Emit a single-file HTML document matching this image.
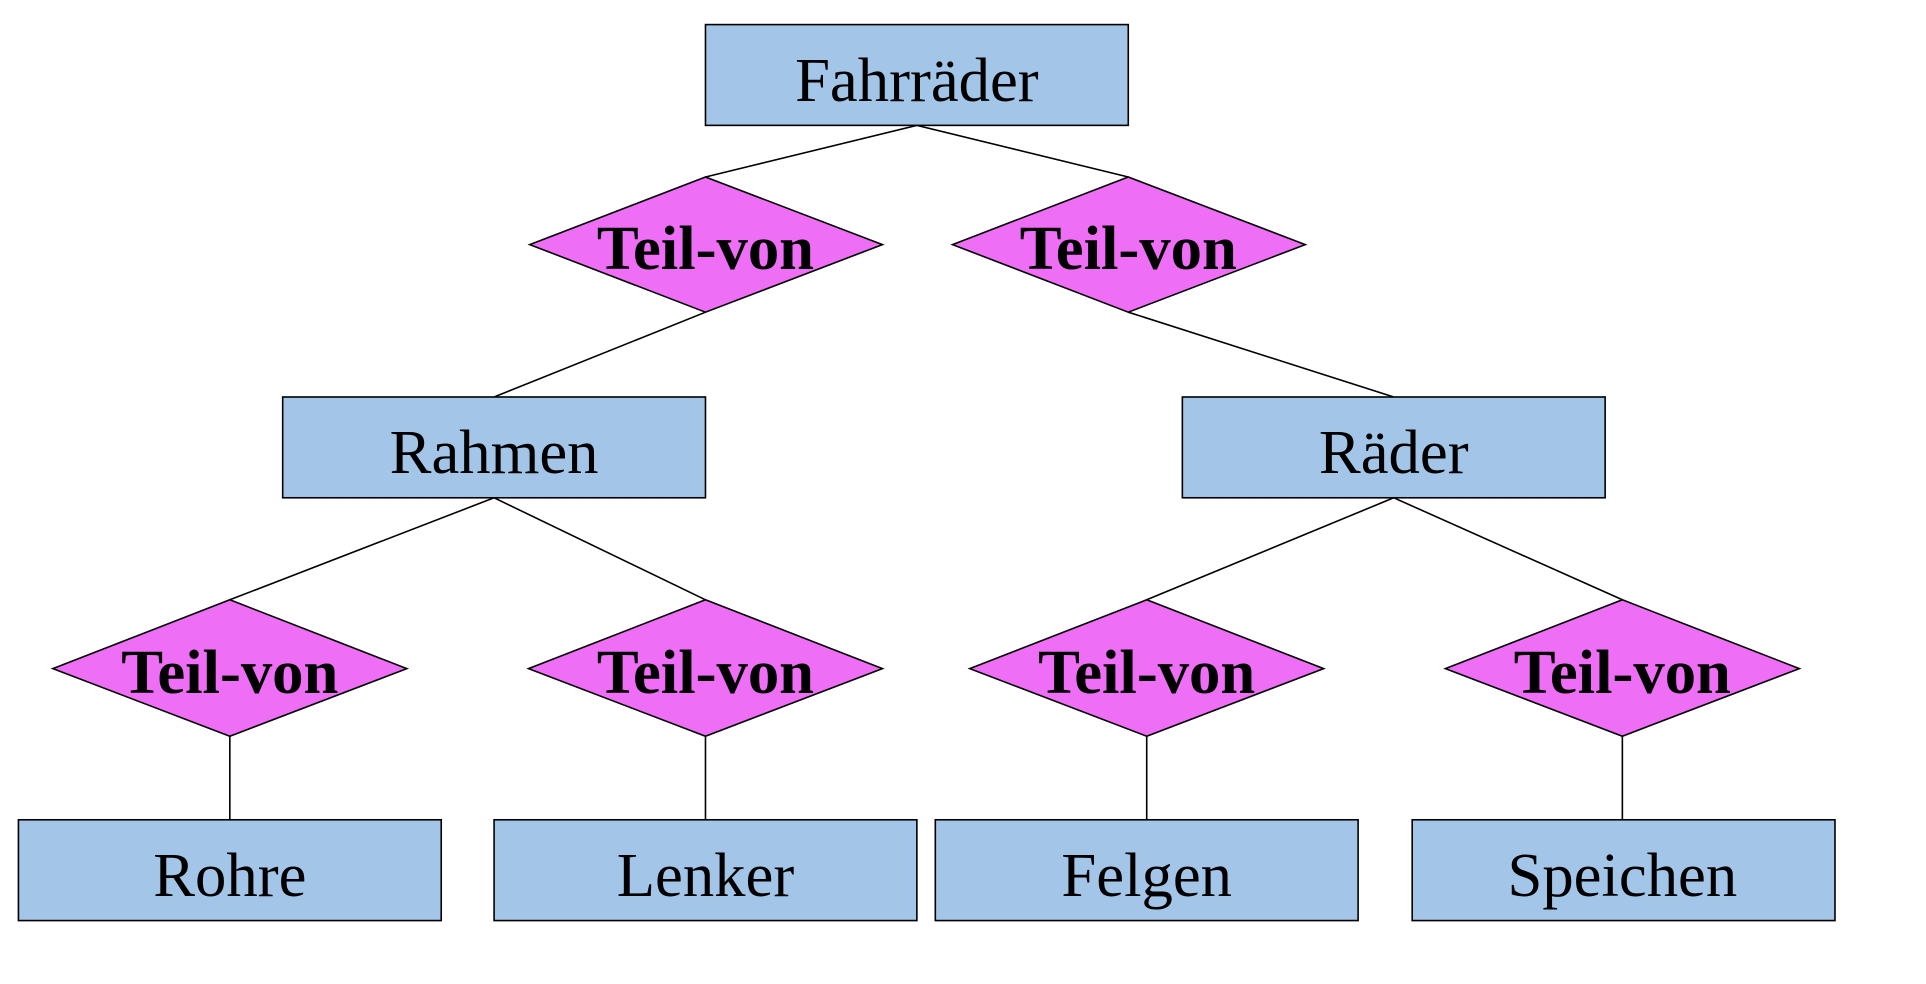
<!DOCTYPE html>
<html><head><meta charset="utf-8">
<style>
html,body{margin:0;padding:0;background:#fff;}
svg{display:block;}
</style></head>
<body>
<svg width="1926" height="984" viewBox="0 0 1560 797" xmlns="http://www.w3.org/2000/svg">
<g transform="scale(0.9955)">
<g stroke="#000" stroke-width="1.3" fill="none">
<line x1="746" y1="102" x2="574" y2="144"/>
<line x1="746" y1="102" x2="918" y2="144"/>
<line x1="574" y1="254" x2="402" y2="323"/>
<line x1="918" y1="254" x2="1134" y2="323"/>
<line x1="402" y1="405" x2="187" y2="488"/>
<line x1="402" y1="405" x2="574" y2="488"/>
<line x1="1134" y1="405" x2="933" y2="488"/>
<line x1="1134" y1="405" x2="1320" y2="488"/>
<line x1="187" y1="599" x2="187" y2="667"/>
<line x1="574" y1="599" x2="574" y2="667"/>
<line x1="933" y1="599" x2="933" y2="667"/>
<line x1="1320" y1="599" x2="1320" y2="667"/>
</g>
<g fill="#a3c5e8" stroke="#000" stroke-width="1.3">
<rect x="574" y="20" width="344" height="82"/>
<rect x="230" y="323" width="344" height="82"/>
<rect x="962" y="323" width="344" height="82"/>
<rect x="15" y="667" width="344" height="82"/>
<rect x="402" y="667" width="344" height="82"/>
<rect x="761" y="667" width="344" height="82"/>
<rect x="1149" y="667" width="344" height="82"/>
</g>
<g fill="#ee6ef5" stroke="#000" stroke-width="1.3">
<polygon points="431,199 574,144 718,199 574,254"/>
<polygon points="775,199 918,144 1062,199 918,254"/>
<polygon points="43,544 187,488 331,544 187,599"/>
<polygon points="430,544 574,488 718,544 574,599"/>
<polygon points="789,544 933,488 1077,544 933,599"/>
<polygon points="1176,544 1320,488 1464,544 1320,599"/>
</g>
<g font-family="Liberation Serif, serif" font-size="51" text-anchor="middle" fill="#000">
<text x="746" y="82">Fahrräder</text>
<text x="402" y="385">Rahmen</text>
<text x="1134" y="385">Räder</text>
<text x="187" y="729">Rohre</text>
<text x="574" y="729">Lenker</text>
<text x="933" y="729">Felgen</text>
<text x="1320" y="729">Speichen</text>
</g>
<g font-family="Liberation Serif, serif" font-size="51" font-weight="bold" text-anchor="middle" fill="#000">
<text x="574" y="219">Teil-von</text>
<text x="918" y="219">Teil-von</text>
<text x="187" y="564">Teil-von</text>
<text x="574" y="564">Teil-von</text>
<text x="933" y="564">Teil-von</text>
<text x="1320" y="564">Teil-von</text>
</g>
</g>
</svg>
</body></html>
